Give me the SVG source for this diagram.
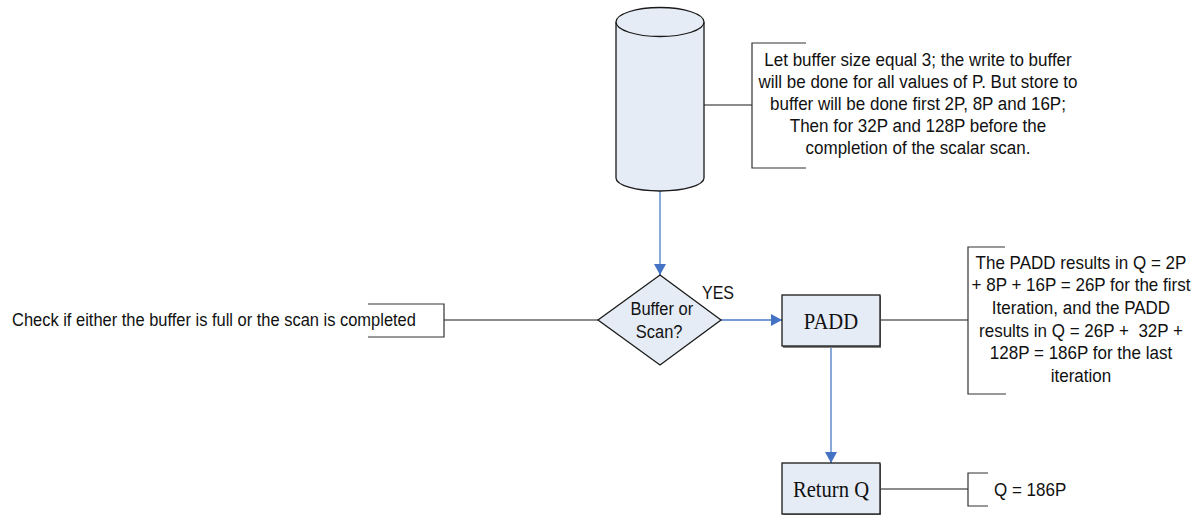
<svg xmlns="http://www.w3.org/2000/svg" width="1195" height="515" viewBox="0 0 1195 515">
  <defs>
    <marker id="arrow" markerWidth="12" markerHeight="12" refX="11" refY="6" orient="auto" markerUnits="userSpaceOnUse">
      <path d="M0,0 L11,6 L0,12 Z" fill="#4472C4"/>
    </marker>
    <style>
      .shape { fill: #E6ECF6; stroke: #1a1a1a; stroke-width: 1.3; }
      .shadow { fill: #7f7f7f; }
      .flow { stroke: #4A7BC4; stroke-width: 1.3; fill: none; }
      .link { stroke: #1a1a1a; stroke-width: 1.1; fill: none; }
      .bracket { stroke: #333333; stroke-width: 1.2; fill: none; }
      .sans { font-family: "Liberation Sans", Arial, sans-serif; font-size: 18.9px; fill: #111111; white-space: pre; }
      .serif { font-family: "Liberation Serif", "Times New Roman", serif; font-size: 24px; fill: #111111; }
    </style>
  </defs>

  <rect width="1195" height="515" fill="#ffffff"/>

  <!-- connectors -->
  <g id="connectors">
    <line class="flow" x1="660" y1="191" x2="660" y2="275" marker-end="url(#arrow)"/>
    <line class="flow" x1="721" y1="320" x2="782" y2="320" marker-end="url(#arrow)"/>
    <line class="flow" x1="831" y1="347" x2="831" y2="463" marker-end="url(#arrow)"/>
    <line class="link" x1="704" y1="105" x2="752" y2="105"/>
    <line class="link" x1="444" y1="320" x2="598" y2="320"/>
    <line class="link" x1="880" y1="320" x2="968" y2="320"/>
    <line class="link" x1="880" y1="489" x2="968" y2="489"/>
  </g>

  <!-- storage cylinder -->
  <g id="storage">
    <path class="shape" d="M616,22 L616,178 A44,13 0 0 0 704,178 L704,22 A44,14.5 0 0 0 616,22 Z"/>
    <path class="shape" d="M616,22 A44,14.5 0 0 0 704,22" fill="none"/>
  </g>

  <!-- note on buffer behaviour -->
  <g id="note-buffer">
    <path class="bracket" d="M806,43 L752,43 L752,168 L806,168"/>
    <g transform="translate(918 0) scale(0.9 1)">
      <text class="sans" text-anchor="middle" x="0" y="66">Let buffer size equal 3; the write to buffer</text>
      <text class="sans" text-anchor="middle" x="0" y="88">will be done for all values of P. But store to</text>
      <text class="sans" text-anchor="middle" x="0" y="110">buffer will be done first 2P, 8P and 16P;</text>
      <text class="sans" text-anchor="middle" x="0" y="132">Then for 32P and 128P before the</text>
      <text class="sans" text-anchor="middle" x="0" y="154">completion of the scalar scan.</text>
    </g>
  </g>

  <!-- decision -->
  <g id="decision">
    <polygon class="shape" points="660,275 721,320 660,365 598,320"/>
    <g transform="translate(660 0) scale(0.9 1)">
      <text class="sans" text-anchor="middle" x="2" y="315" style="font-size:18.3px">Buffer or</text>
      <text class="sans" text-anchor="middle" x="-1" y="338" style="font-size:18.3px">Scan?</text>
    </g>
    <g transform="translate(702 0) scale(0.9 1)">
      <text class="sans" x="0" y="299" style="font-size:17.8px">YES</text>
    </g>
  </g>

  <!-- note on the decision -->
  <g id="note-check">
    <path class="bracket" d="M368,304 L444,304 L444,337 L368,337"/>
    <g transform="translate(12 0) scale(0.9 1)">
      <text class="sans" x="0" y="326" style="font-size:18.3px">Check if either the buffer is full or the scan is completed</text>
    </g>
  </g>

  <!-- PADD step -->
  <g id="padd">
    <rect class="shadow" x="783" y="296" width="98" height="52"/>
    <rect class="shape" x="782" y="295" width="98" height="51"/>
    <g transform="translate(831 0) scale(0.86 1)">
      <text class="serif" text-anchor="middle" x="0" y="329">PADD</text>
    </g>
  </g>

  <!-- note on PADD -->
  <g id="note-padd">
    <path class="bracket" d="M1005,247 L968,247 L968,394 L1006,394"/>
    <g transform="translate(1081 0) scale(0.9 1)">
      <text class="sans" text-anchor="middle" x="0" y="269">The PADD results in Q = 2P</text>
      <text class="sans" text-anchor="middle" x="0" y="291.5">+ 8P + 16P = 26P for the first</text>
      <text class="sans" text-anchor="middle" x="0" y="314">Iteration, and the PADD</text>
      <text class="sans" text-anchor="middle" x="0" y="337">results in Q = 26P +  32P +</text>
      <text class="sans" text-anchor="middle" x="0" y="359.5">128P = 186P for the last</text>
      <text class="sans" text-anchor="middle" x="0" y="382">iteration</text>
    </g>
  </g>

  <!-- Return Q step -->
  <g id="return-q">
    <rect class="shadow" x="783" y="464" width="98" height="51"/>
    <rect class="shape" x="782" y="463" width="98" height="51"/>
    <g transform="translate(831 0) scale(0.86 1)">
      <text class="serif" text-anchor="middle" x="0" y="497">Return Q</text>
    </g>
  </g>

  <!-- result note -->
  <g id="note-result">
    <path class="bracket" d="M988,473 L968,473 L968,506 L988,506"/>
    <g transform="translate(994 0) scale(0.9 1)">
      <text class="sans" x="0" y="496">Q = 186P</text>
    </g>
  </g>
</svg>
